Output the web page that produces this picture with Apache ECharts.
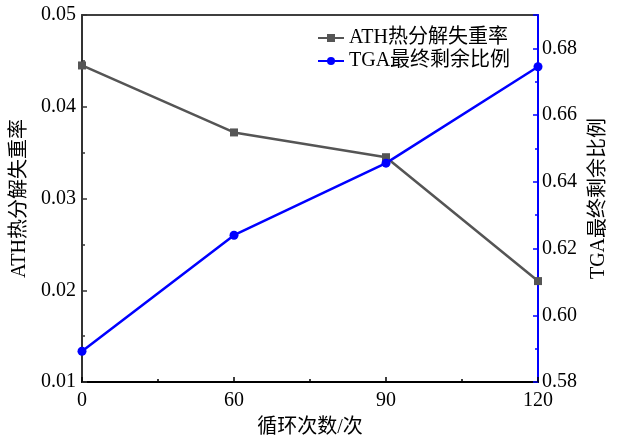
<!DOCTYPE html>
<html>
<head>
<meta charset="utf-8">
<script src="https://cdn.jsdelivr.net/npm/echarts@6/dist/echarts.min.js"></script>
<style>
  html, body { margin: 0; padding: 0; background: #fff; }
  #chart { width: 618px; height: 438px; }
</style>
</head>
<body>
<div id="chart"></div>
<script>
// Cycle counts (x axis categories, equally spaced)
const cycles = ['0', '60', '90', '120'];
// ATH thermal decomposition weight-loss rate (left axis)
const athLoss = [0.0445, 0.0372, 0.0345, 0.0210];
// TGA final residual ratio (right axis)
const tgaResidual = [0.5892, 0.6240, 0.6456, 0.6745];

const FONT = '"Liberation Serif", "Noto Sans CJK SC", serif';
const chart = echarts.init(document.getElementById('chart'), null, { renderer: 'canvas' });

const pairs = arr => arr.map((v, i) => [i, v]);

chart.setOption({
  animation: false,
  textStyle: { fontFamily: FONT, color: '#000' },
  grid: {
    left: 82, right: 80, top: 15, bottom: 56,
    outerBoundsMode: 'none', containLabel: false,
    show: true, borderColor: '#000', borderWidth: 1.5, backgroundColor: 'transparent'
  },
  legend: {
    left: 312, top: 23, orient: 'vertical', itemGap: 3,
    itemWidth: 26, itemHeight: 10,
    textStyle: { fontFamily: FONT, fontSize: 20, color: '#000' },
    data: ['ATH热分解失重率', 'TGA最终剩余比例']
  },
  xAxis: {
    type: 'value', min: 0, max: cycles.length - 1, interval: 1,
    name: '循环次数/次', nameLocation: 'middle', nameGap: 36,
    nameTextStyle: { fontFamily: FONT, fontSize: 20, color: '#000' },
    axisLine: { lineStyle: { color: '#000', width: 2 } },
    axisTick: { inside: true, length: 5, lineStyle: { color: '#000', width: 1.5 } },
    minorTick: { show: true, splitNumber: 2, length: 3, lineStyle: { color: '#000', width: 1.5 } },
    axisLabel: {
      fontFamily: FONT, fontSize: 20, color: '#000', margin: 9,
      formatter: v => cycles[v] ?? ''
    },
    splitLine: { show: false }
  },
  yAxis: [
    {
      type: 'value', min: 0.01, max: 0.05, interval: 0.01, position: 'left',
      name: 'ATH热分解失重率', nameLocation: 'middle', nameGap: 47, nameRotate: 90,
      nameTextStyle: { fontFamily: FONT, fontSize: 20, color: '#000' },
      axisLine: { show: true, lineStyle: { color: '#333', width: 2 } },
      axisTick: { inside: true, length: 5, lineStyle: { color: '#333', width: 1.5 } },
      minorTick: { show: true, splitNumber: 2, length: 3, lineStyle: { color: '#333', width: 1.5 } },
      axisLabel: {
        fontFamily: FONT, fontSize: 20, color: '#000', margin: 6,
        formatter: v => v.toFixed(2)
      },
      splitLine: { show: false }
    },
    {
      type: 'value', min: 0.58, max: 0.69, interval: 0.02, position: 'right',
      name: 'TGA最终剩余比例', nameLocation: 'middle', nameGap: 51, nameRotate: 90,
      nameTextStyle: { fontFamily: FONT, fontSize: 20, color: '#000' },
      axisLine: { show: true, lineStyle: { color: '#0000ff', width: 2 } },
      axisTick: { inside: true, length: 5, lineStyle: { color: '#0000ff', width: 1.5 } },
      minorTick: { show: true, splitNumber: 2, length: 3, lineStyle: { color: '#0000ff', width: 1.5 } },
      axisLabel: {
        fontFamily: FONT, fontSize: 20, color: '#000', margin: 4,
        showMaxLabel: false,
        formatter: v => v.toFixed(2)
      },
      splitLine: { show: false }
    }
  ],
  series: [
    {
      name: 'ATH热分解失重率', type: 'line', yAxisIndex: 0,
      data: pairs(athLoss),
      symbol: 'rect', symbolSize: 8,
      lineStyle: { color: '#555', width: 2.5 },
      itemStyle: { color: '#555' },
      z: 3
    },
    {
      name: 'TGA最终剩余比例', type: 'line', yAxisIndex: 1,
      data: pairs(tgaResidual),
      symbol: 'circle', symbolSize: 9,
      lineStyle: { color: '#0000ff', width: 2.5 },
      itemStyle: { color: '#0000ff' },
      z: 4
    }
  ]
});
</script>
</body>
</html>
